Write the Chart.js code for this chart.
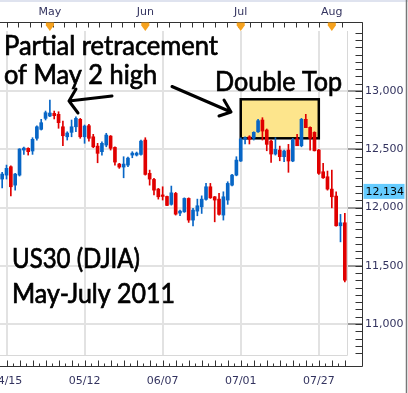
<!DOCTYPE html>
<html>
<head>
<meta charset="utf-8">
<script src="https://cdn.jsdelivr.net/npm/chart.js@4"></script>
<style>
  html, body { margin: 0; padding: 0; background: #fff; }
  #wrap { width: 408px; height: 393px; }
</style>
</head>
<body>
<div id="wrap"><canvas id="chart" width="408" height="393"></canvas></div>
<script>
// US30 (DJIA) daily candles, 14 Apr - 4 Aug 2011
const dates = [
  '04/14', '04/15', '04/18', '04/19', '04/20', '04/21', '04/25', '04/26', '04/27', '04/28',
  '04/29', '05/02', '05/03', '05/04', '05/05', '05/06', '05/09', '05/10', '05/11', '05/12',
  '05/13', '05/16', '05/17', '05/18', '05/19', '05/20', '05/23', '05/24', '05/25', '05/26',
  '05/27', '05/30', '05/31', '06/01', '06/02', '06/03', '06/06', '06/07', '06/08', '06/09',
  '06/10', '06/13', '06/14', '06/15', '06/16', '06/17', '06/20', '06/21', '06/22', '06/23',
  '06/24', '06/27', '06/28', '06/29', '06/30', '07/01', '07/04', '07/05', '07/06', '07/07',
  '07/08', '07/11', '07/12', '07/13', '07/14', '07/15', '07/18', '07/19', '07/20', '07/21',
  '07/22', '07/25', '07/26', '07/27', '07/28', '07/29', '08/01', '08/02', '08/03', '08/04'
];
const opens = [
  12244, 12278, 12350, 12192, 12278, 12493, 12508, 12485, 12594, 12671,
  12765, 12785, 12808, 12800, 12693, 12607, 12645, 12693, 12757, 12607,
  12702, 12607, 12527, 12479, 12536, 12613, 12516, 12373, 12347, 12364,
  12450, 12450, 12456, 12579, 12293, 12241, 12158, 12102, 12095, 12027,
  12121, 11952, 11963, 12078, 11892, 11969, 12006, 12070, 12178, 12092,
  12072, 11935, 12064, 12192, 12278, 12399, 12585, 12607, 12596, 12650,
  12751, 12665, 12570, 12459, 12493, 12436, 12493, 12399, 12588, 12530,
  12757, 12688, 12645, 12493, 12307, 12264, 12158, 12098, 11843, 11869
];
const highs = [
  12302, 12364, 12358, 12293, 12505, 12519, 12513, 12599, 12702, 12757,
  12828, 12923, 12828, 12822, 12742, 12650, 12751, 12779, 12765, 12708,
  12714, 12628, 12551, 12564, 12637, 12618, 12521, 12379, 12436, 12433,
  12479, 12476, 12579, 12599, 12321, 12250, 12164, 12178, 12098, 12184,
  12130, 11978, 12083, 12083, 11992, 12072, 12100, 12207, 12207, 12095,
  12121, 12135, 12221, 12284, 12436, 12599, 12607, 12616, 12650, 12757,
  12771, 12674, 12579, 12599, 12527, 12493, 12542, 12594, 12628, 12765,
  12800, 12693, 12650, 12499, 12379, 12313, 12321, 12135, 11941, 11949
];
const lows = [
  12169, 12244, 12100, 12149, 12270, 12456, 12450, 12456, 12579, 12665,
  12751, 12780, 12760, 12680, 12530, 12579, 12607, 12650, 12594, 12551,
  12570, 12513, 12384, 12450, 12521, 12493, 12364, 12336, 12255, 12350,
  12427, 12442, 12450, 12278, 12192, 12107, 12072, 12064, 12015, 12020,
  11935, 11929, 11958, 11872, 11843, 11929, 11949, 12064, 12078, 11877,
  11935, 11892, 12027, 12185, 12272, 12395, 12545, 12545, 12579, 12645,
  12579, 12487, 12386, 12450, 12401, 12393, 12302, 12393, 12530, 12521,
  12685, 12493, 12485, 12284, 12250, 12149, 11997, 11840, 11705, 11362
];
const closes = [
  12287, 12336, 12178, 12287, 12502, 12510, 12479, 12585, 12693, 12728,
  12814, 12811, 12788, 12728, 12616, 12639, 12693, 12765, 12607, 12699,
  12594, 12521, 12465, 12551, 12622, 12508, 12390, 12347, 12373, 12424,
  12467, 12467, 12570, 12284, 12244, 12149, 12092, 12095, 12018, 12126,
  11943, 11969, 12078, 11892, 11978, 12015, 12072, 12178, 12083, 12064,
  11941, 12092, 12207, 12278, 12407, 12588, 12599, 12585, 12645, 12745,
  12656, 12542, 12459, 12499, 12436, 12485, 12399, 12579, 12530, 12757,
  12685, 12594, 12487, 12293, 12255, 12158, 12092, 11843, 11869, 11376
];

// axis labels
const axisDates = ['04/15', '05/12', '06/07', '07/01', '07/27'];
const monthStarts = ['05/02', '06/01', '07/01', '08/01'];
const monthNames = ['May', 'Jun', 'Jul', 'Aug'];
const priceTicks = [11000, 11500, 12000, 12500, 13000];
const lastPrice = 12134;

// double top zone
const boxDates = ['07/01', '07/27'];
const boxPrices = [12594, 12929];

const UP = '#0866c6';
const DOWN = '#e00000';
const GRID = '#e2e2e2';
const AXIS_TEXT = '#33335f';
const candleColors = opens.map((o, i) => closes[i] >= opens[i] ? UP : DOWN);
const fmt = v => v.toLocaleString('en-US');

// keep the plot area exactly where the axes say, no label padding
const noPad = s => { s.paddingLeft = 0; s.paddingRight = 0; s.paddingTop = 0; s.paddingBottom = 0; };

// axes, markers and the hand drawn notes
const overlay = {
  id: 'overlay',
  beforeDatasetsDraw(chart) {
    const { ctx, scales: { x, y } } = chart;
    const x0 = x.getPixelForValue(dates.indexOf(boxDates[0]));
    const x1 = x.getPixelForValue(dates.indexOf(boxDates[1]));
    const y0 = y.getPixelForValue(boxPrices[1]);
    const y1 = y.getPixelForValue(boxPrices[0]);
    ctx.save();
    ctx.fillStyle = '#fde58c';
    ctx.fillRect(x0, y0, x1 - x0, y1 - y0);
    ctx.lineWidth = 2.5;
    ctx.strokeStyle = '#000';
    ctx.strokeRect(x0, y0, x1 - x0, y1 - y0);
    ctx.restore();
  },
  afterDraw(chart) {
    const { ctx, chartArea: a, scales: { x, y } } = chart;
    const axisX = a.right + 15.5;
    const topY = 22.5;
    const botY = a.bottom + 11.5;
    ctx.save();
    ctx.strokeStyle = '#333';
    ctx.lineWidth = 1;

    // frame lines of the axes
    ctx.beginPath();
    ctx.moveTo(0, topY); ctx.lineTo(axisX, topY);
    ctx.moveTo(axisX, topY); ctx.lineTo(axisX, botY);
    ctx.moveTo(0, botY); ctx.lineTo(axisX, botY);
    ctx.stroke();

    // minor ticks on the price axis
    ctx.beginPath();
    for (let v = 10750; v <= 13500; v += 62.5) {
      const py = Math.round(y.getPixelForValue(v)) + 0.5;
      if (py < topY || py > a.bottom) continue;
      ctx.moveTo(axisX - 7, py); ctx.lineTo(axisX, py);
    }
    ctx.stroke();

    // date ticks, top and bottom
    ctx.beginPath();
    let k = 0;
    for (let i = 1; i <= dates.length; i += 1.5, k++) {
      const px = Math.round(x.getPixelForValue(i)) + 0.5;
      if (px > axisX) break;
      const len = k % 2 === 0 ? 6 : 3;
      ctx.moveTo(px, botY); ctx.lineTo(px, botY - len);
    }
    for (let i = 1; i <= dates.length; i += 2.67) {
      const px = Math.round(x.getPixelForValue(i)) + 0.5;
      if (px > axisX) break;
      ctx.moveTo(px, topY); ctx.lineTo(px, topY + 5);
    }
    ctx.moveTo(axisX, topY); ctx.lineTo(axisX, topY + 8);
    ctx.stroke();

    // month start flags
    ctx.fillStyle = '#f6a21e';
    monthStarts.forEach(d => {
      const px = x.getPixelForValue(dates.indexOf(d));
      ctx.beginPath();
      ctx.moveTo(px - 4, topY); ctx.lineTo(px + 4, topY);
      ctx.lineTo(px + 4, topY + 3); ctx.lineTo(px, topY + 8.5);
      ctx.lineTo(px - 4, topY + 3);
      ctx.closePath();
      ctx.fill();
    });

    // plot frame
    ctx.strokeStyle = '#d8d8d8';
    ctx.beginPath();
    ctx.moveTo(a.right + 0.5, a.top); ctx.lineTo(a.right + 0.5, a.bottom + 0.5);
    ctx.lineTo(0, a.bottom + 0.5);
    ctx.stroke();

    // outer border of the picture
    ctx.fillStyle = '#dfe3ef';
    ctx.fillRect(0, 0, chart.width, 2);
    ctx.strokeStyle = '#777';
    ctx.lineWidth = 1.5;
    ctx.beginPath();
    ctx.moveTo(chart.width - 1.5, 0); ctx.lineTo(chart.width - 1.5, chart.height);
    ctx.stroke();

    // last price tag
    const ly = y.getPixelForValue(lastPrice);
    ctx.fillStyle = '#66ccff';
    ctx.fillRect(axisX + 1, ly - 8, 41, 15);
    ctx.fillStyle = '#000';
    ctx.font = '11px "DejaVu Sans"';
    ctx.textBaseline = 'middle';
    ctx.fillText(fmt(lastPrice), axisX + 3, ly);

    // notes
    ctx.font = '26px Lato';
    ctx.textBaseline = 'alphabetic';
    ctx.strokeStyle = '#000';
    ctx.lineWidth = 0.7;
    [
      ['Partial retracement', 4, 55, 214],
      ['of May 2 high', 4, 84, 153],
      ['Double Top', 215, 91, 127],
      ['US30 (DJIA)', 12, 268, 128],
      ['May-July 2011', 12, 303, 163]
    ].forEach(([t, tx, ty, w]) => {
      ctx.fillText(t, tx, ty, w);
      ctx.strokeText(t, tx, ty, w);
    });

    // arrows
    ctx.lineWidth = 3;
    ctx.lineCap = 'round';
    ctx.lineJoin = 'round';
    ctx.beginPath();
    ctx.moveTo(112, 96); ctx.lineTo(69, 101);
    ctx.moveTo(76, 89); ctx.lineTo(69, 101); ctx.lineTo(78, 113);
    ctx.moveTo(172, 86.5); ctx.lineTo(231, 112);
    ctx.moveTo(224, 100); ctx.lineTo(231, 112); ctx.lineTo(219, 116);
    ctx.stroke();
    ctx.restore();
  }
};

new Chart(document.getElementById('chart'), {
  type: 'bar',
  data: {
    labels: dates,
    datasets: [
      {
        label: 'range',
        data: lows.map((l, i) => [l, highs[i]]),
        backgroundColor: candleColors,
        barThickness: 1,
        grouped: false,
        xAxisID: 'x'
      },
      {
        label: 'body',
        data: opens.map((o, i) => [o, closes[i]]),
        backgroundColor: candleColors,
        barThickness: 3,
        minBarLength: 1.5,
        grouped: false,
        xAxisID: 'x'
      }
    ]
  },
  options: {
    responsive: false,
    animation: false,
    devicePixelRatio: 1,
    layout: { padding: 0 },
    plugins: { legend: { display: false }, tooltip: { enabled: false } },
    scales: {
      x: {
        type: 'category',
        position: 'bottom',
        offset: true,
        afterFit: s => { s.height = 38; noPad(s); },
        border: { display: false },
        grid: {
          offset: false,
          drawTicks: false,
          lineWidth: 2,
          color: c => axisDates.includes(dates[c.index]) ? GRID : 'rgba(0,0,0,0)'
        },
        ticks: {
          autoSkip: false,
          maxRotation: 0,
          padding: 20,
          color: AXIS_TEXT,
          font: { family: 'DejaVu Sans', size: 11 },
          callback: (v, i) => axisDates.includes(dates[i]) ? dates[i] : ''
        }
      },
      xTop: {
        type: 'category',
        position: 'top',
        offset: true,
        afterFit: s => { s.height = 31; noPad(s); },
        border: { display: false },
        grid: { display: false, drawTicks: false },
        ticks: {
          autoSkip: false,
          maxRotation: 0,
          padding: 12,
          color: AXIS_TEXT,
          font: { family: 'DejaVu Sans', size: 11 },
          callback: (v, i) => {
            const m = monthStarts.indexOf(dates[i]);
            return m >= 0 ? monthNames[m] : '';
          }
        }
      },
      y: {
        position: 'right',
        min: 10734,
        max: 13515,
        afterFit: s => { s.width = 61; noPad(s); },
        afterBuildTicks: s => { s.ticks = priceTicks.map(v => ({ value: v })); },
        border: { display: false },
        grid: {
          lineWidth: 2,
          tickLength: 15,
          tickWidth: 1,
          color: GRID,
          tickColor: '#333'
        },
        ticks: {
          padding: 3,
          color: AXIS_TEXT,
          font: { family: 'DejaVu Sans', size: 11 },
          callback: v => fmt(v)
        }
      }
    }
  },
  plugins: [overlay]
});
</script>
</body>
</html>
